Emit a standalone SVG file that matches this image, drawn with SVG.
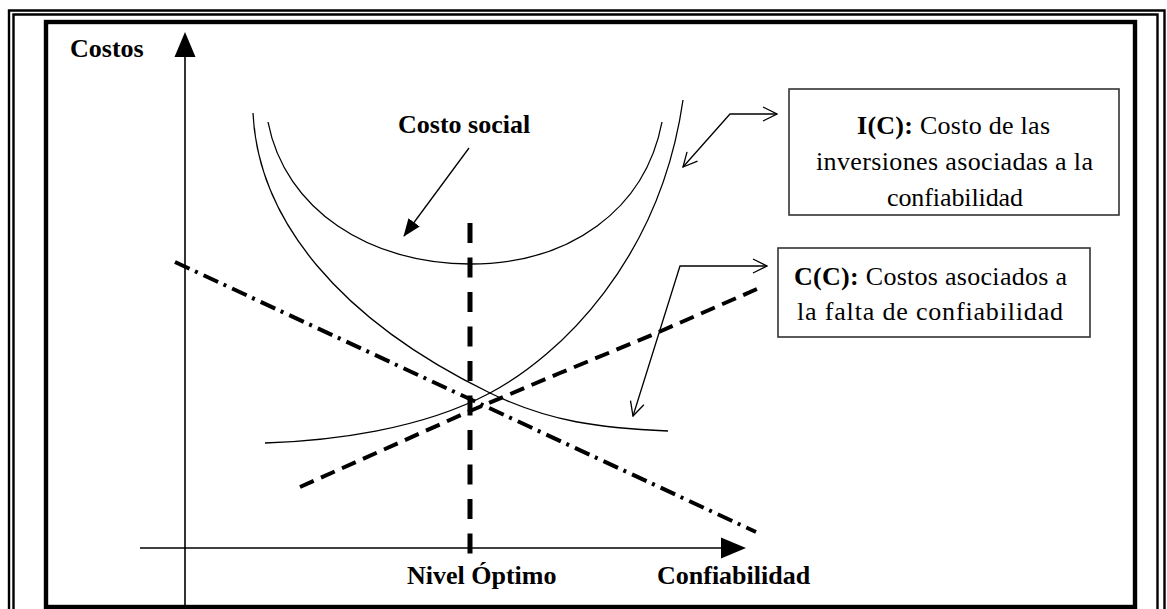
<svg xmlns="http://www.w3.org/2000/svg" width="1167" height="609" viewBox="0 0 1167 609">
  <style>
    .bold { font-family: "Liberation Serif", "Times New Roman", serif; font-weight: bold; font-size: 26px; fill: #000; }
    .reg { font-family: "Liberation Serif", "Times New Roman", serif; font-size: 26px; fill: #000; }
    .thin { fill: none; stroke: #000; stroke-width: 1.3; }
    .axis { fill: none; stroke: #000; stroke-width: 1.6; }
    .box { fill: #fff; stroke: #333; stroke-width: 1.6; }
    .conn { fill: none; stroke: #000; stroke-width: 1.3; }
  </style>
  <defs>
    <marker id="open" markerUnits="userSpaceOnUse" viewBox="0 0 16 16" refX="15" refY="8" markerWidth="16" markerHeight="16" orient="auto-start-reverse">
      <path d="M1,1 L15,8 L1,15" fill="none" stroke="#000" stroke-width="1.3"/>
    </marker>
    <marker id="solid" markerUnits="userSpaceOnUse" viewBox="0 0 18 14" refX="17" refY="7" markerWidth="18" markerHeight="14" orient="auto">
      <path d="M0,0 L18,7 L0,14 z" fill="#000"/>
    </marker>
  </defs>

  <rect width="1167" height="609" fill="#fff"/>

  <!-- page border: double rule outside, heavy rule inside -->
  <g id="frame" fill="none" stroke="#000">
    <path d="M9,620 V10.5 H1164.5 V620" stroke-width="2.4"/>
    <path d="M13.5,620 V14.5 H1157.5 V620" stroke-width="2.4"/>
    <rect x="46" y="22" width="1089" height="585" stroke-width="4.4"/>
  </g>

  <!-- axes -->
  <g id="axes">
    <line class="axis" x1="185" y1="50" x2="185" y2="605"/>
    <polygon points="185,32 174.5,57 195.5,57" fill="#000"/>
    <line class="axis" x1="140" y1="548" x2="730" y2="548"/>
    <polygon points="746,548 721,537.5 721,558.5" fill="#000"/>
  </g>

  <!-- cost curves -->
  <g id="curves">
    <!-- costo social -->
    <path class="thin" d="M268,122 C285,210 370,264 470,264 C570,264 645,210 662,122"/>
    <!-- decreasing solid curve -->
    <path class="thin" d="M253,113 C258,220 340,320 490,393 C550,422 600,428 668,431"/>
    <!-- increasing solid curve -->
    <path class="thin" d="M265,443 C330,441 420,430 490,393 C560,356 660,260 683,100"/>
    <!-- dashed rising line -->
    <polyline fill="none" stroke="#000" stroke-width="4" stroke-dasharray="15 8" points="300,487 470,411 560,373 652,335 757,289"/>
    <!-- dash-dot falling line -->
    <line x1="175" y1="262" x2="756" y2="532" stroke="#000" stroke-width="4" stroke-dasharray="16 6 3 6.5"/>
    <!-- optimum level -->
    <line x1="470" y1="223" x2="470" y2="554" stroke="#000" stroke-width="5" stroke-dasharray="20 14.5"/>
  </g>

  <!-- pointers -->
  <g id="connectors">
    <line class="conn" x1="469" y1="148" x2="404" y2="236" marker-end="url(#solid)"/>
    <polyline class="conn" points="683,167 730,114 777,114" marker-start="url(#open)" marker-end="url(#open)"/>
    <polyline class="conn" points="633,416 680,266 767,266" marker-start="url(#open)" marker-end="url(#open)"/>
  </g>

  <!-- labels -->
  <g id="label-costos"><text class="bold" x="70" y="57">Costos</text></g>
  <g id="label-costo-social"><text class="bold" x="398" y="133">Costo social</text></g>
  <g id="label-nivel"><text class="bold" x="407" y="584">Nivel Óptimo</text></g>
  <g id="label-confiabilidad"><text class="bold" x="657" y="584">Confiabilidad</text></g>

  <g id="box-ic">
    <rect class="box" x="789" y="89" width="330" height="126"/>
    <text class="reg" x="857" y="134" textLength="193" lengthAdjust="spacing"><tspan font-weight="bold">I(C):</tspan> Costo de las</text>
    <text class="reg" x="816" y="170" textLength="277" lengthAdjust="spacing">inversiones asociadas a la</text>
    <text class="reg" x="887" y="206" textLength="136" lengthAdjust="spacing">confiabilidad</text>
  </g>

  <g id="box-cc">
    <rect class="box" x="778" y="248" width="312" height="89"/>
    <text class="reg" x="794" y="285" textLength="273" lengthAdjust="spacing"><tspan font-weight="bold">C(C):</tspan> Costos asociados a</text>
    <text class="reg" x="797" y="320" textLength="266" lengthAdjust="spacing">la falta de confiabilidad</text>
  </g>
</svg>
